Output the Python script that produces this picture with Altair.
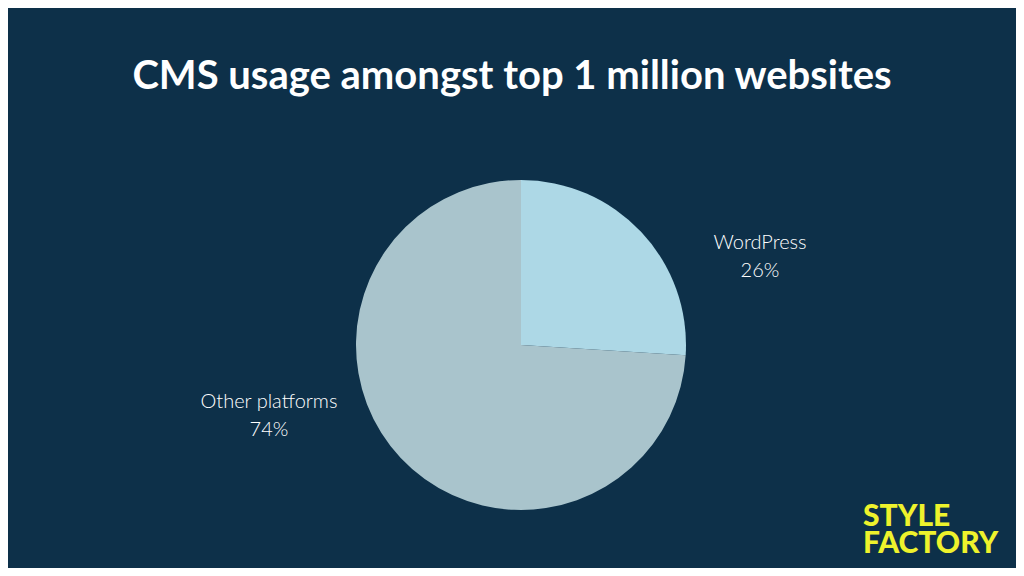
import altair as alt
import pandas as pd

# ---- data ----
categories = ["WordPress", "Other platforms"]
shares = [26, 74]
slice_colors = ["#add8e6", "#a9c4cc"]
title_text = ["CMS usage amongst top 1 million websites"]
logo_lines = ["STYLE", "FACTORY"]

BG = "#0d3049"
W, H = 1008, 560
CX, CY, R = 513, 337, 165

df = pd.DataFrame({"category": categories, "share": shares, "order": list(range(len(categories)))})
df["label"] = df["category"] + "\n" + df["share"].astype(str) + "%"

base = alt.Chart(df)

pie = base.mark_arc(radius=R, strokeWidth=0).encode(
    theta=alt.Theta("share:Q", stack=True),
    order=alt.Order("order:Q"),
    color=alt.Color("category:N", scale=alt.Scale(domain=categories, range=slice_colors), legend=None),
    x=alt.value(CX),
    y=alt.value(CY),
)

label_style = dict(font="Lato", fontWeight=300, fontSize=20, color="white",
                   align="center", baseline="alphabetic", lineBreak="\n", lineHeight=28)

lab_wp = base.transform_filter(alt.datum.category == "WordPress").mark_text(**label_style).encode(
    text="label:N", x=alt.value(752), y=alt.value(241))
lab_other = base.transform_filter(alt.datum.category == "Other platforms").mark_text(**label_style).encode(
    text="label:N", x=alt.value(261), y=alt.value(400))

title = alt.Chart(pd.DataFrame({"t": title_text})).mark_text(
    font="Lato", fontWeight="bold", fontSize=40, color="white", align="center", baseline="alphabetic"
).encode(text="t:N", x=alt.value(504), y=alt.value(81))

logo = alt.Chart(pd.DataFrame({"t": ["\n".join(logo_lines)]})).mark_text(
    font="Lato", fontWeight=900, fontSize=30, color="#eef22c", align="left", baseline="alphabetic",
    lineBreak="\n", lineHeight=27
).encode(text="t:N", x=alt.value(855), y=alt.value(518))

chart = alt.layer(pie, lab_wp, lab_other, title, logo).properties(
    width=W, height=H, background=BG, padding=0,
    autosize=alt.AutoSizeParams(type="none")
).configure_view(stroke=None)

chart.save("out.html", embed_options={"renderer": "svg", "actions": False})
